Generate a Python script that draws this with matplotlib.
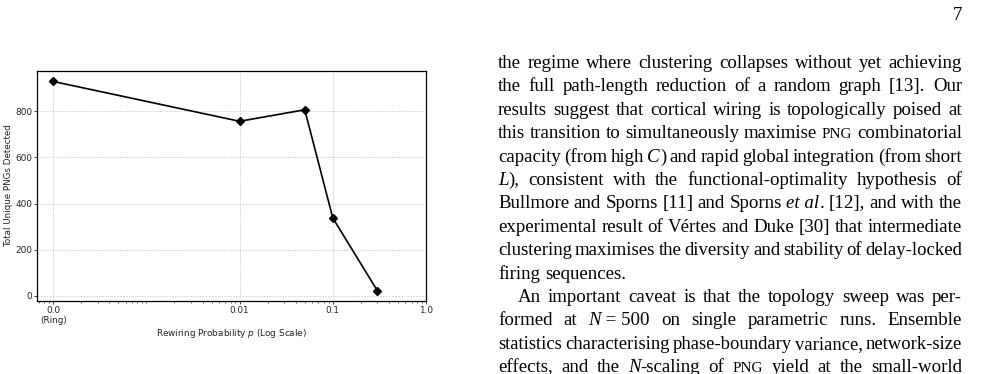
import matplotlib
matplotlib.use("Agg")
import matplotlib.pyplot as plt
from matplotlib.ticker import LogLocator, NullFormatter, FixedLocator, FixedFormatter
from matplotlib.transforms import IdentityTransform
from matplotlib.font_manager import FontProperties

# ---------------- data ----------------
p_values = [0.0, 0.01, 0.05, 0.1, 0.3]
png_counts = [930, 757, 807, 337, 22]
ring_pos = 1e-4  # where p = 0 (ring lattice) is drawn on the log axis
x_tick_values = [1e-4, 0.01, 0.1, 1.0]
x_tick_labels = ["0.0\n(Ring)", "0.01", "0.1", "1.0"]
y_tick_values = [0, 200, 400, 600, 800]

page_number = "7"
body_lines = [
    "the regime where clustering collapses without yet achieving",
    "the full path-length reduction of a random graph [13].  Our",
    "results suggest that cortical wiring is topologically poised at",
    "this transition to simultaneously maximise {PNG} combinatorial",
    "capacity (from high _C_) and rapid global integration (from short",
    "_L_), consistent with the functional-optimality hypothesis of",
    "Bullmore and Sporns [11] and Sporns _et~al_. [12], and with the",
    "experimental result of Vértes and Duke [30] that intermediate",
    "clustering maximises the diversity and stability of delay-locked",
    "firing sequences.",
    "An important caveat is that the topology sweep was per-",
    "formed at _N_~=~500 on single parametric runs.  Ensemble",
    "statistics characterising phase-boundary variance, network-size",
    "effects, and the _N_-scaling of {PNG} yield at the small-world",
]
justified = [True] * 9 + [False] + [True] * 4
indented = [False] * 10 + [True] + [False] * 3

W, H = 999, 374
fig = plt.figure(figsize=(W / 100, H / 100), dpi=100)

# ---------------- chart ----------------
ax_l, ax_r, ax_t, ax_b = 37, 426, 71, 301
ax = fig.add_axes([ax_l / W, 1 - ax_b / H, (ax_r - ax_l) / W, (ax_b - ax_t) / H])
x_plot = [ring_pos if p == 0 else p for p in p_values]
ax.plot(x_plot, png_counts, color="black", lw=1.2, marker="D", ms=3.6,
        mfc="black", mec="black")
ax.set_xscale("log")
ax.set_xlim(10 ** (-4.174), 1.0)
ax.xaxis.set_major_locator(FixedLocator(x_tick_values))
ax.xaxis.set_major_formatter(FixedFormatter(x_tick_labels))
ax.xaxis.set_minor_locator(LogLocator(base=10, subs=[1, 2, 3, 4, 5, 6, 7, 8, 9]))
ax.xaxis.set_minor_formatter(NullFormatter())
ax.set_yticks(y_tick_values)
ax.grid(True, which="major", linestyle=(0, (2.5, 1.5)), lw=0.55, color="#cdcdcd")
ax.tick_params(which="major", labelsize=6.4, length=2.2, width=0.6, pad=1.2,
               colors="#222222")
ax.tick_params(which="minor", length=1.3, width=0.5, colors="#222222")
for s in ax.spines.values():
    s.set_linewidth(0.9)
ax.set_xlabel("Rewiring Probability $p$ (Log Scale)", fontsize=6.4, labelpad=1.5,
              color="#222222")
ax.set_ylabel("Total Unique PNGs Detected", fontsize=6.3, labelpad=1.5,
              color="#222222")

# ---------------- page text ----------------
fig.canvas.draw()
renderer = fig.canvas.get_renderer()
FS = 13.6
ident = IdentityTransform()


def make_fp(size):
    return {
        "r": FontProperties(family="Liberation Serif", size=size),
        "i": FontProperties(family="Liberation Serif", style="italic", size=size),
        "sc": FontProperties(family="Liberation Serif", size=size * 0.8),
    }


def parse_word(word):
    pieces = []
    buf = ""
    style = "r"
    for ch in word:
        if ch == "_":
            if buf:
                pieces.append((buf, style))
            buf = ""
            style = "i" if style != "i" else "r"
        elif ch == "{":
            if buf:
                pieces.append((buf, style))
            buf = ""
            style = "sc"
        elif ch == "}":
            if buf:
                pieces.append((buf, style))
            buf = ""
            style = "r"
        else:
            buf += " " if ch == "~" else ch
    if buf:
        pieces.append((buf, style))
    return pieces


def width(text, fpd, style):
    t = fig.text(0, 0, text, fontproperties=fpd[style], transform=ident)
    w = t.get_window_extent(renderer).width
    t.remove()
    return w


x0, x1 = 498, 962
base0, step = 68.0, 23.4
indent = 20

for i, line in enumerate(body_lines):
    words = [parse_word(w) for w in line.split()]
    start = x0 + (indent if indented[i] else 0)
    size = FS
    for _ in range(6):
        fpd = make_fp(size)
        space_w = width("a a", fpd, "r") - width("aa", fpd, "r")
        wlist = [[width(s, fpd, st) for s, st in wd] for wd in words]
        total = sum(sum(w) for w in wlist)
        need = total + 0.6 * space_w * (len(words) - 1)
        if need <= x1 - start or not justified[i]:
            break
        size *= (x1 - start) / need
    if justified[i] and len(words) > 1:
        gap = (x1 - start - total) / (len(words) - 1)
    else:
        gap = space_w
    y = H - (base0 + i * step)
    x = start
    for wd, ws in zip(words, wlist):
        for (s, st), w in zip(wd, ws):
            fig.text(x, y, s, fontproperties=fpd[st], transform=ident,
                     va="baseline", ha="left", color="black")
            x += w
        x += gap

fig.text(x1, H - 20, page_number, fontproperties=make_fp(FS)["r"],
         transform=ident, va="baseline", ha="right", color="black")

fig.savefig("out.png", dpi=100)
